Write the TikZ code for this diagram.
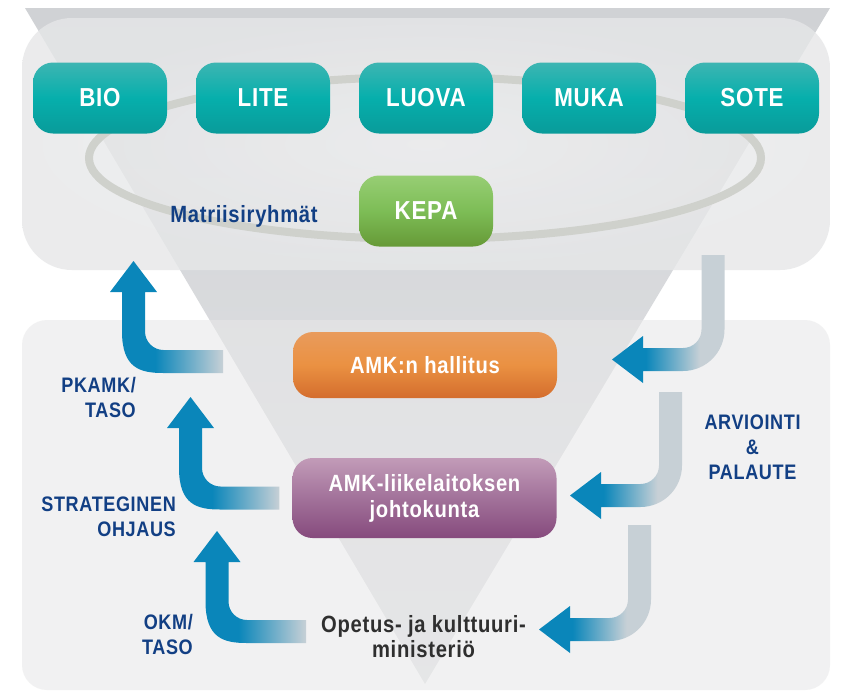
\documentclass[tikz,border=0pt]{standalone}
\usepackage{fontspec}
\setmainfont{Liberation Sans}
\newfontfamily\condfont{Liberation Sans}[FakeStretch=0.86,LetterSpace=3.0]
\usetikzlibrary{calc}

\definecolor{funtop}{HTML}{D0D2D5}
\definecolor{funbot}{HTML}{E3E4E6}
\definecolor{paneltop}{HTML}{F1F1F2}
\definecolor{paneledge}{HTML}{E6E7E8}
\definecolor{panelbot}{HTML}{E8E8E9}
\definecolor{ringgray}{HTML}{CFD1CC}
\definecolor{tealtop}{HTML}{3DB5B2}
\definecolor{tealmid}{HTML}{06AFAC}
\definecolor{tealbot}{HTML}{099B9A}
\definecolor{greentop}{HTML}{97CE74}
\definecolor{greenmid}{HTML}{7DBD56}
\definecolor{greenbot}{HTML}{669A37}
\definecolor{orangetop}{HTML}{E99B5C}
\definecolor{orangemid}{HTML}{EA9142}
\definecolor{orangebot}{HTML}{D46D2D}
\definecolor{purpletop}{HTML}{C29BB8}
\definecolor{purplemid}{HTML}{A2729A}
\definecolor{purplebot}{HTML}{864A7D}
\definecolor{tagblue}{HTML}{123F84}
\definecolor{okmgray}{HTML}{2F2F2F}
\definecolor{arrblue}{HTML}{0A86BA}
\definecolor{arrgray}{HTML}{C7D0D6}

\pgfdeclarehorizontalshading{upfade}{100bp}{color(0bp)=(arrblue); color(45bp)=(arrblue); color(75bp)=(arrgray); color(100bp)=(arrgray)}
\pgfdeclarehorizontalshading{downfade}{100bp}{color(0bp)=(arrblue); color(40bp)=(arrblue); color(64bp)=(arrgray); color(100bp)=(arrgray)}

\newcommand\steerarrow[3]{%
  \shade[shading=upfade]
    (#1) -- ($(#1)+(23.5,31)$) -- ($(#1)+(11.5,31)$)
    -- ($(#2)+(11.5,-30)$) .. controls ($(#2)+(11.5,-19.8)$) and ($(#2)+(19.8,-11.5)$) .. ($(#2)+(30,-11.5)$)
    -- ($(#3)+(0,-11.5)$) -- ($(#3)+(0,11.5)$)
    -- ($(#2)+(30,11.5)$) .. controls ($(#2)+(7.1,11.5)$) and ($(#2)+(-11.5,7.1)$) .. ($(#2)+(-11.5,-30)$)
    -- ($(#1)+(-11.5,31)$) -- ($(#1)+(-23.5,31)$) -- cycle;}
\newcommand\feedarrow[3]{%
  \shade[shading=downfade]
    ($(#1)+(-11.5,0)$) -- ($(#1)+(11.5,0)$)
    -- ($(#2)+(11.5,-30)$) .. controls ($(#2)+(11.5,-7.1)$) and ($(#2)+(-7.1,11.5)$) .. ($(#2)+(-30,11.5)$)
    -- ($(#3)+(31,11.5)$) -- ($(#3)+(31,23.5)$) -- (#3) -- ($(#3)+(31,-23.5)$) -- ($(#3)+(31,-11.5)$)
    -- ($(#2)+(-30,-11.5)$) .. controls ($(#2)+(-19.8,-11.5)$) and ($(#2)+(-11.5,-19.8)$) .. ($(#2)+(-11.5,-30)$)
    -- cycle;}

\begin{document}
\begin{tikzpicture}[x=1pt,y=-1pt,
  every node/.style={font=\condfont\bfseries\fontsize{21}{25}\selectfont},
  tile/.style={rounded corners=20pt, minimum width=134pt, minimum height=71pt, inner sep=0pt, text=white},
  matrixbox/.style={tile, top color=tealtop, bottom color=tealbot, middle color=tealmid, font=\condfont\bfseries\fontsize{26}{26}\selectfont},
  kepabox/.style={tile, top color=greentop, bottom color=greenbot, middle color=greenmid, font=\condfont\bfseries\fontsize{26}{26}\selectfont},
  boardbox/.style={tile, minimum width=264pt, align=center, font=\condfont\bfseries\fontsize{23.5}{26}\selectfont},
  tag/.style={text=tagblue, inner sep=0pt}
]
\useasboundingbox (0,0) rectangle (845,691);
\fill[white] (0,0) rectangle (845,691);

\shade[top color=funtop, bottom color=funbot] (25,8) -- (830,8) -- (425,684) -- cycle;
\shade[inner color=paneltop, outer color=paneledge, fill opacity=0.8, rounded corners=50pt] (22,18) rectangle (830,270);
\fill[panelbot, fill opacity=0.57, rounded corners=25pt] (22,320) rectangle (830,690);
\draw[ringgray, line width=8pt] (425,158) ellipse [x radius=336, y radius=81];

\node[matrixbox] (bio) at (100,98) {BIO};
\node[matrixbox] (lite) at (263,98) {LITE};
\node[matrixbox] (luova) at (426,98) {LUOVA};
\node[matrixbox] (muka) at (589,98) {MUKA};
\node[matrixbox] (sote) at (752,98) {SOTE};
\node[kepabox] (kepa) at (426,211) {KEPA};
\node[tag, font=\condfont\bfseries\fontsize{23.5}{25}\selectfont] (matriisi) at (244,216) {Matriisiryhmät};

\node[boardbox, minimum height=66pt, top color=orangetop, bottom color=orangebot, middle color=orangemid] (hallitus) at (425,365) {AMK:n hallitus};
\node[boardbox, minimum height=80pt, top color=purpletop, bottom color=purplebot, middle color=purplemid] (johto) at (424.5,498) {AMK-liikelaitoksen\\johtokunta};
\node[align=center, text=okmgray, inner sep=0pt, font=\condfont\bfseries\fontsize{23.5}{25}\selectfont] (okm) at (423.5,637) {Opetus- ja kulttuuri-\\ministeriö};

\node[tag, align=right, anchor=east] (pkamk) at (136,397.5) {PKAMK/\\TASO};
\node[tag, align=right, anchor=east] (strat) at (176,517) {STRATEGINEN\\OHJAUS};
\node[tag, align=right, anchor=east] (okmtaso) at (193,634.5) {OKM/\\TASO};
\node[tag, align=center] (arvio) at (752.5,447.5) {ARVIOINTI\\\&\\PALAUTE};

\coordinate (pktip) at (133.5,261);
\coordinate (pkbend) at (133.5,361.5);
\coordinate (pkend) at (223,361.5);
\coordinate (sttip) at (190.5,397);
\coordinate (stbend) at (190.5,498);
\coordinate (stend) at ($(johto.west)+(-13,0)$);
\coordinate (oktip) at (217,531);
\coordinate (okbend) at (217,631.5);
\coordinate (okend) at (306,631.5);
\steerarrow{pktip}{pkbend}{pkend}
\steerarrow{sttip}{stbend}{stend}
\steerarrow{oktip}{okbend}{okend}

\coordinate (fbtop1) at (713,255);
\coordinate (fbbend1) at (713,359.5);
\coordinate (fbtip1) at (612,359.5);
\coordinate (fbtop2) at (670.5,392);
\coordinate (fbbend2) at (670.5,495.5);
\coordinate (fbtip2) at (570,495.5);
\coordinate (fbtop3) at (639.5,525);
\coordinate (fbbend3) at (639.5,629.5);
\coordinate (fbtip3) at (539,629.5);
\feedarrow{fbtop1}{fbbend1}{fbtip1}
\feedarrow{fbtop2}{fbbend2}{fbtip2}
\feedarrow{fbtop3}{fbbend3}{fbtip3}
\end{tikzpicture}
\end{document}
